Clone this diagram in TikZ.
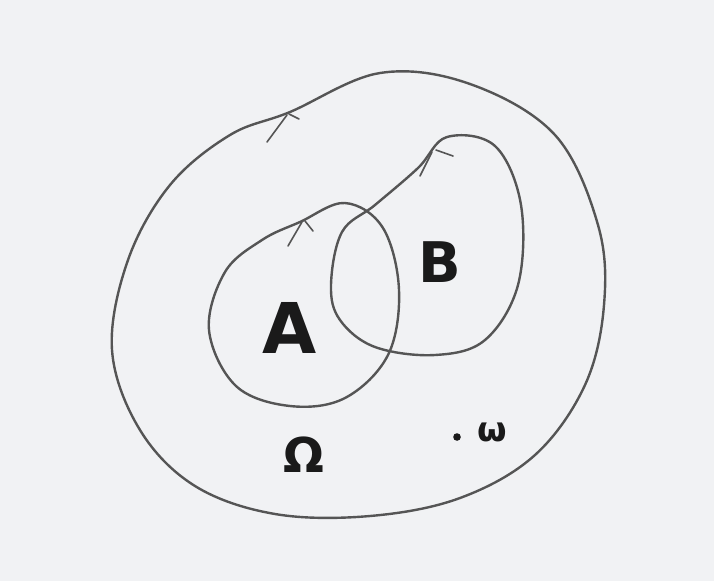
\documentclass[tikz,border=0pt]{standalone}
\usepackage{fontspec}
\setmainfont{DejaVu Sans}
\definecolor{paper}{HTML}{F1F2F4}
\definecolor{pencil}{HTML}{555555}
\definecolor{ink}{HTML}{1A1A1A}
\begin{document}
\begin{tikzpicture}[x=1pt,y=-1pt,
  setline/.style={draw=pencil,line width=2.4pt,line cap=round,line join=round},
  tick/.style={draw=pencil,line width=1.6pt,line cap=round},
  lbl/.style={text=ink,inner sep=0pt}]
\fill[paper] (0,0) rectangle (714,581);
\useasboundingbox (0,0) rectangle (714,581);
% outer set Omega
\draw[setline] plot[smooth cycle,tension=0.6] coordinates {
  (112,350) (128,260) (170,185) (230,135) (290,112) (380,73) (470,84)
  (555,135) (598,225) (604,305) (585,385) (535,455) (460,498) (370,516)
  (275,514) (195,486) (140,430)};
% set A
\draw[setline] plot[smooth cycle,tension=0.6] coordinates {
  (209,330) (225,272) (262,240) (300,222) (345,203) (383,228) (399,290)
  (388,355) (345,398) (290,406) (236,386)};
% set B
\draw[setline] plot[smooth cycle,tension=0.6] coordinates {
  (331,285) (342,232) (375,205) (418,168) (447,137) (495,146) (521,205)
  (518,285) (485,340) (435,355) (375,347) (340,320)};
% hand-drawn overlap ticks
\draw[tick] (287,115) -- (267,142);
\draw[tick] (289,114) -- (299,119);
\draw[tick] (302,222) -- (288,246);
\draw[tick] (305,221) -- (313,231);
\draw[tick] (432,152) -- (420,176);
\draw[tick] (436,150) -- (453,156);
% labels
\node[lbl,font=\bfseries\fontsize{70}{70}\selectfont] (a) at (290,328) {A};
\node[lbl,font=\bfseries\fontsize{56}{56}\selectfont] (b) at (440,262) {B};
\node[lbl,font=\bfseries\fontsize{48}{48}\selectfont] (omega) at (304,455) {Ω};
\fill[ink] (457,437) circle (3.8);
\node[lbl,font=\bfseries\fontsize{34}{34}\selectfont] (w) at (492,432) {ω};
\end{tikzpicture}
\end{document}
